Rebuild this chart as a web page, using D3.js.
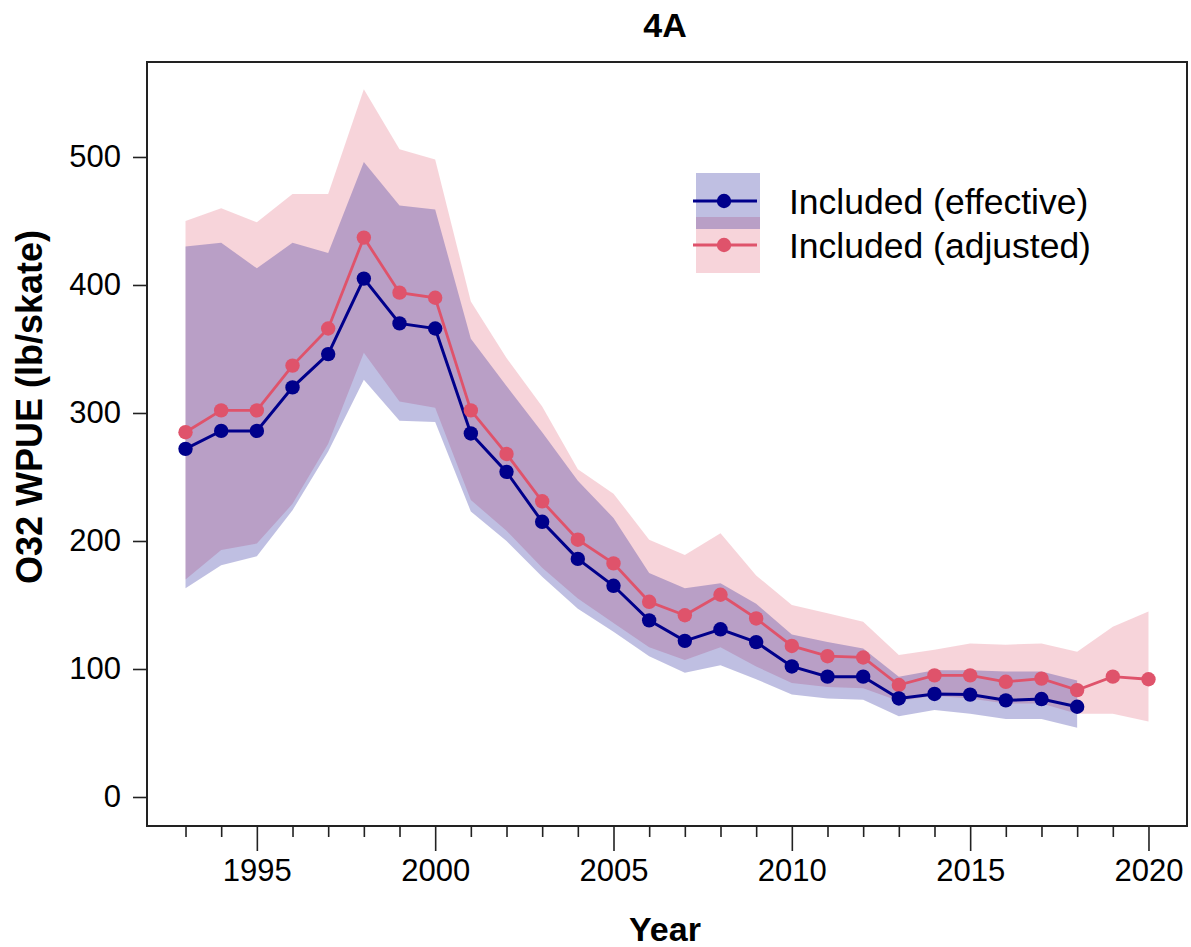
<!DOCTYPE html>
<html>
<head>
<meta charset="utf-8">
<script src="https://cdn.jsdelivr.net/npm/d3@7"></script>
<style>
  html, body { margin: 0; padding: 0; background: #fff; }
  svg { display: block; }
  text { font-family: "Liberation Sans", Arial, sans-serif; fill: #000; }
</style>
</head>
<body>
<svg id="chart" width="1191" height="947"></svg>
<script>
// ---- Data ----
const yearsEff = d3.range(1993, 2019);
const effective = [272, 286, 286, 320, 346, 405, 370, 366, 284, 254, 215, 186, 165, 138, 122, 131, 121, 102, 94, 94, 77, 80.5, 80, 75.5, 76.5, 70.5];
const effectiveLo = [163, 181, 188, 224, 270, 326, 294, 293, 223, 200, 172, 147, 129, 110, 97, 103, 92, 80, 77, 76, 63, 68, 65, 61, 61, 54];
const effectiveHi = [430, 433, 413, 433, 425, 496, 462, 459, 358, 321, 285, 247, 218, 175, 163, 167, 151, 127, 121, 116, 94, 99, 99, 98, 98, 91];

const yearsAdj = d3.range(1993, 2021);
const adjusted = [285, 302, 302, 337, 366, 437, 394, 390, 302, 268, 231, 201, 182.5, 152.5, 142, 158, 139.5, 118, 110, 109, 87.5, 95, 95, 90, 92.5, 83.5, 94, 92];
const adjustedLo = [170, 193, 198, 229, 276, 347, 309, 304, 232, 208, 179, 155, 136, 117, 107, 117, 102, 89, 86, 85, 75, 79, 77, 73, 73, 65, 65, 59];
const adjustedHi = [450, 460, 449, 471, 471, 553, 506, 498, 387, 343, 305, 256, 237, 201, 189, 206, 173, 150, 143.5, 137, 111, 115, 120, 119, 120, 113.5, 133, 145];

const yTicks = [0, 100, 200, 300, 400, 500];
const xMajorTicks = [1995, 2000, 2005, 2010, 2015, 2020];
const xMinorTicks = d3.range(1993, 2021);
const seriesNames = ["Included (effective)", "Included (adjusted)"];
const titleText = "4A";
const xTitle = "Year";
const yTitle = "O32 WPUE (lb/skate)";

// ---- Layout ----
const pL = 147, pR = 1187, pT = 62, pB = 826;
const navy = "#00008B", red = "#DF536B";
const navyBand = "rgba(0,0,139,0.25)", redBand = "rgba(223,83,107,0.25)";

const x = d3.scaleLinear().domain([1991.92, 2021.08]).range([pL, pR]);
const y = d3.scaleLinear().domain([-22.66, 574.2]).range([pB, pT]);

const svg = d3.select("#chart");

const eff = yearsEff.map((yr, i) => ({yr, v: effective[i], lo: effectiveLo[i], hi: effectiveHi[i]}));
const adj = yearsAdj.map((yr, i) => ({yr, v: adjusted[i], lo: adjustedLo[i], hi: adjustedHi[i]}));

const area = d3.area().x(d => x(d.yr)).y0(d => y(d.lo)).y1(d => y(d.hi));
const line = d3.line().x(d => x(d.yr)).y(d => y(d.v));

// bands
svg.append("path").datum(adj).attr("d", area).attr("fill", redBand);
svg.append("path").datum(eff).attr("d", area).attr("fill", navyBand);

// lines
svg.append("path").datum(adj).attr("d", line).attr("fill", "none").attr("stroke", red).attr("stroke-width", 2.8);
svg.append("path").datum(eff).attr("d", line).attr("fill", "none").attr("stroke", navy).attr("stroke-width", 3);

svg.append("g").selectAll("circle").data(adj).join("circle")
  .attr("cx", d => x(d.yr)).attr("cy", d => y(d.v)).attr("r", 7.2).attr("fill", red);
svg.append("g").selectAll("circle").data(eff).join("circle")
  .attr("cx", d => x(d.yr)).attr("cy", d => y(d.v)).attr("r", 7.2).attr("fill", navy);

// box
svg.append("rect").attr("x", pL).attr("y", pT).attr("width", pR - pL).attr("height", pB - pT)
  .attr("fill", "none").attr("stroke", "#222").attr("stroke-width", 2);

// y axis
const yAxis = d3.axisLeft(y).tickValues(yTicks).tickSize(14).tickPadding(12).tickFormat(d3.format("d"));
const gy = svg.append("g").attr("transform", `translate(${pL},0)`).call(yAxis);
gy.select(".domain").remove();
gy.selectAll("line").attr("stroke", "#222").attr("stroke-width", 1.6);
gy.selectAll("text").attr("font-size", 31).attr("font-family", "Liberation Sans, Arial, sans-serif").attr("fill", "#000");

// x axis major
const xAxis = d3.axisBottom(x).tickValues(xMajorTicks).tickSize(25).tickPadding(8).tickFormat(d3.format("d"));
const gx = svg.append("g").attr("transform", `translate(0,${pB})`).call(xAxis);
gx.select(".domain").remove();
gx.selectAll("line").attr("stroke", "#222").attr("stroke-width", 1.6);
gx.selectAll("text").attr("font-size", 31).attr("font-family", "Liberation Sans, Arial, sans-serif").attr("fill", "#000");

// x axis minor
const xMinor = d3.axisBottom(x).tickValues(xMinorTicks.filter(t => !xMajorTicks.includes(t))).tickSize(11).tickFormat("");
const gxm = svg.append("g").attr("transform", `translate(0,${pB})`).call(xMinor);
gxm.select(".domain").remove();
gxm.selectAll("line").attr("stroke", "#222").attr("stroke-width", 1.6);

// titles
svg.append("text").attr("x", 665).attr("y", 37).attr("text-anchor", "middle")
  .attr("font-size", 34).attr("font-weight", "bold").text(titleText);
svg.append("text").attr("x", 665).attr("y", 941).attr("text-anchor", "middle")
  .attr("font-size", 34).attr("font-weight", "bold").text(xTitle);
svg.append("text").attr("transform", "translate(42,407) rotate(-90)").attr("text-anchor", "middle")
  .attr("font-size", 36).attr("font-weight", "bold").text(yTitle);

// legend
const lg = svg.append("g");
lg.append("rect").attr("x", 696).attr("y", 217).attr("width", 64).attr("height", 56).attr("fill", redBand);
lg.append("rect").attr("x", 696).attr("y", 173).attr("width", 64).attr("height", 56).attr("fill", navyBand);
const legendItems = [{name: seriesNames[0], color: navy, ly: 201}, {name: seriesNames[1], color: red, ly: 245}];
legendItems.forEach(it => {
  lg.append("line").attr("x1", 693).attr("x2", 757).attr("y1", it.ly).attr("y2", it.ly)
    .attr("stroke", it.color).attr("stroke-width", 3);
  lg.append("circle").attr("cx", 724).attr("cy", it.ly).attr("r", 7.2).attr("fill", it.color);
  lg.append("text").attr("x", 789).attr("y", it.ly + 13).attr("font-size", 35.5).text(it.name);
});
</script>
</body>
</html>
